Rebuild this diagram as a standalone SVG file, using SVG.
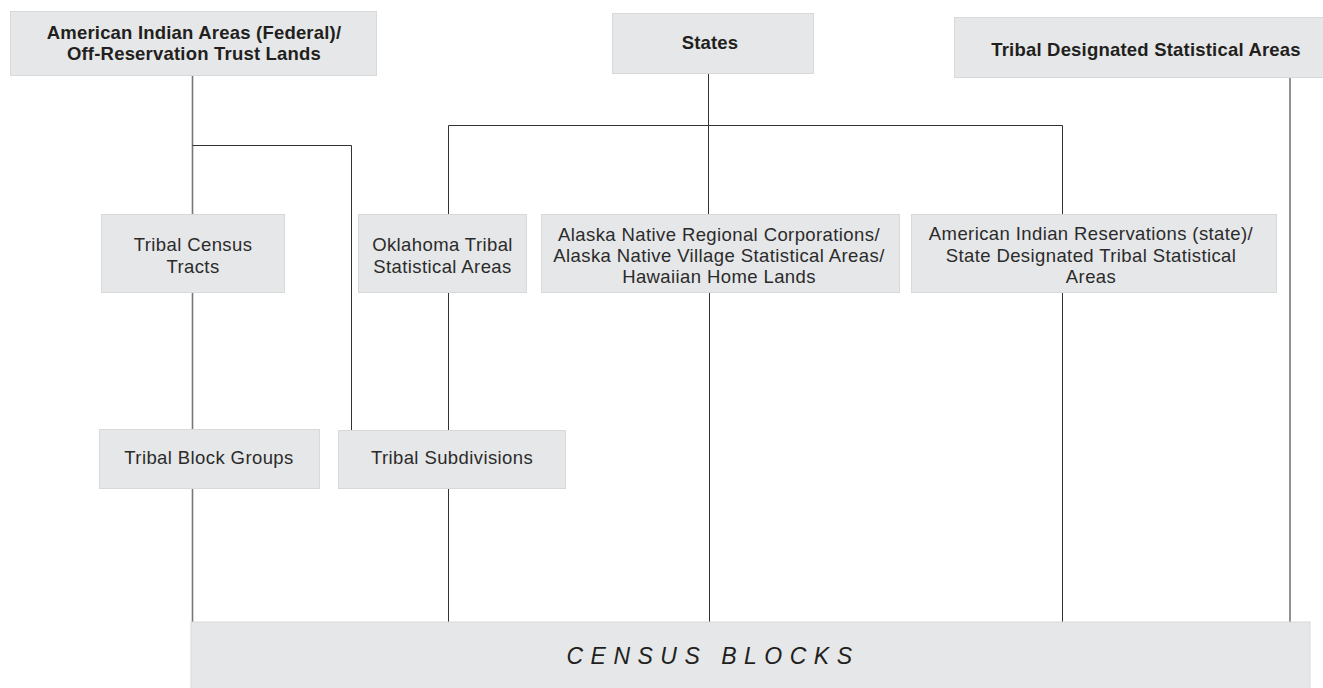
<svg xmlns="http://www.w3.org/2000/svg" width="1323" height="688" viewBox="0 0 1323 688">
<style>
.box{fill:#e6e7e8;stroke:#d8d9da;stroke-width:1}
.t{font-family:"Liberation Sans",Arial,sans-serif;font-size:18.5px;fill:#2b2b2b;text-anchor:middle;letter-spacing:0.4px}
.b{font-family:"Liberation Sans",Arial,sans-serif;font-size:18.5px;font-weight:bold;fill:#231f20;text-anchor:middle;letter-spacing:0.2px}
.cb{font-family:"Liberation Sans",Arial,sans-serif;font-size:23px;font-style:italic;fill:#231f20;text-anchor:middle;letter-spacing:7.5px}
.c{fill:none;stroke:#333;stroke-width:1}
.g{fill:none;stroke:#777;stroke-width:1.6}
</style>
<rect width="1323" height="688" fill="#fff"/>
<g id="connectors">
<path class="g" d="M192.5 76V214M192.5 293V429M192.5 489V622"/>
<path class="c" d="M192.5 145.5H351.5V430"/>
<path class="c" d="M708.5 74V214"/>
<path class="c" d="M448.5 214V125.5H1062.5V214"/>
<path class="c" d="M448.5 293V430M448.5 489V622"/>
<path class="c" d="M709.5 293V622"/>
<path class="c" d="M1062.5 293V622"/>
<path class="g" d="M1290 78V622"/>
</g>
<g id="american-indian-areas-federal">
<rect class="box" x="10.5" y="11.5" width="366" height="64"/>
<text class="b" x="194" y="39">American Indian Areas (Federal)/</text>
<text class="b" x="194" y="60">Off-Reservation Trust Lands</text>
</g>
<g id="states">
<rect class="box" x="612.5" y="13.5" width="201" height="60"/>
<text class="b" x="710" y="49">States</text>
</g>
<g id="tribal-designated-statistical-areas">
<rect class="box" x="954.5" y="17.5" width="380" height="60"/>
<text class="b" x="1146" y="56">Tribal Designated Statistical Areas</text>
</g>
<g id="tribal-census-tracts">
<rect class="box" x="101.5" y="214.5" width="183" height="78"/>
<text class="t" x="193" y="251">Tribal Census</text>
<text class="t" x="193" y="273">Tracts</text>
</g>
<g id="oklahoma-tribal-statistical-areas">
<rect class="box" x="358.5" y="214.5" width="168" height="78"/>
<text class="t" x="442.5" y="251">Oklahoma Tribal</text>
<text class="t" x="442.5" y="273">Statistical Areas</text>
</g>
<g id="alaska-native">
<rect class="box" x="541.5" y="214.5" width="358" height="78"/>
<text class="t" x="719" y="241">Alaska Native Regional Corporations/</text>
<text class="t" x="719" y="262">Alaska Native Village Statistical Areas/</text>
<text class="t" x="719" y="283">Hawaiian Home Lands</text>
</g>
<g id="american-indian-reservations-state">
<rect class="box" x="911.5" y="214.5" width="365" height="78"/>
<text class="t" x="1091" y="240">American Indian Reservations (state)/</text>
<text class="t" x="1091" y="262">State Designated Tribal Statistical</text>
<text class="t" x="1091" y="283">Areas</text>
</g>
<g id="tribal-block-groups">
<rect class="box" x="99.5" y="429.5" width="220" height="59"/>
<text class="t" x="209" y="464">Tribal Block Groups</text>
</g>
<g id="tribal-subdivisions">
<rect class="box" x="338.5" y="430.5" width="227" height="58"/>
<text class="t" x="452" y="464">Tribal Subdivisions</text>
</g>
<g id="census-blocks">
<rect class="box" x="191" y="622" width="1119" height="70"/>
<text class="cb" x="713" y="664">CENSUS BLOCKS</text>
</g>
</svg>
